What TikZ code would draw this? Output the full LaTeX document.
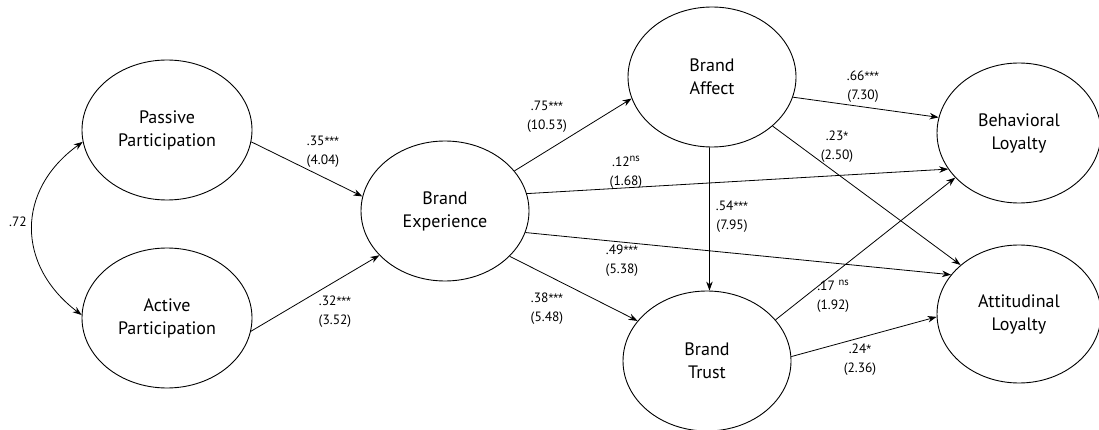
\documentclass[tikz,border=0pt]{standalone}
\usepackage{fontspec}
\setmainfont{PT Sans}
\newfontfamily\starfont{Liberation Sans}
\usetikzlibrary{shapes.geometric,arrows.meta}
% significance marks: stars sit high in the font already, "ns" is raised
\newcommand\stars[1]{{\starfont\fontsize{12.5}{0}\selectfont #1}}
\newcommand\nsmark{\raisebox{0.4em}{\fontsize{10.5}{0}\selectfont ns}}
\begin{document}
\begin{tikzpicture}[x=1pt,y=-1pt,
  construct/.style={draw,ellipse,line width=0.9pt,inner sep=0pt,
    minimum width=168pt,minimum height=140pt,align=center,
    font=\fontsize{18}{23}\selectfont},
  path/.style={line width=0.8pt,-{Stealth[length=9pt,width=6.5pt]}},
  coef/.style={align=center,inner sep=0pt,font=\fontsize{13.5}{19}\selectfont}]
\useasboundingbox (0,0) rectangle (1099,430);

% latent constructs
\node[construct,minimum width=170pt] (pp) at (167,130) {Passive\\Participation};
\node[construct,minimum width=170pt] (ap) at (167,318) {Active\\Participation};
\node[construct] (be) at (445,211) {Brand\\Experience};
\node[construct] (ba) at (712,77) {Brand\\Affect};
\node[construct] (bt) at (707,361) {Brand\\Trust};
\node[construct,minimum width=164pt] (bl) at (1019,133) {Behavioral\\Loyalty};
\node[construct,minimum width=164pt,minimum height=138pt] (al) at (1019,314) {Attitudinal\\Loyalty};

% correlation between the two participation constructs
\draw[line width=0.8pt,{Stealth[length=9pt,width=6.5pt]}-{Stealth[length=9pt,width=6.5pt]}]
  (pp.188) .. controls (16,190) and (16,265) .. (ap.178);
\node[coef] (r) at (18,222) {.72};

% structural paths
\draw[path] (pp.-8) -- (be.170);
\draw[path] (ap.-9) -- (be.-146);
\draw[path] (be.30) -- (ba.195);
\draw[path] (be.12) -- (bl.207);
\draw[path] (be.-15) -- (al.150);
\draw[path] (be.-35) -- (bt.150);
\draw[path] (ba.-92) -- (bt.88);
\draw[path] (ba.-14) -- (bl.169);
\draw[path] (ba.-39) -- (al.140);
\draw[path] (bt.31) -- (bl.215);
\draw[path] (bt.3) -- (al.182);

% path coefficients (t-values)
\node[coef] (c1) at (323,152) {.35\stars{***}\\(4.04)};
\node[coef] (c2) at (335,312) {.32\stars{***}\\(3.52)};
\node[coef] (c3) at (547,117) {.75\stars{***}\\(10.53)};
\node[coef] (c4) at (626,172) {.12\nsmark\\(1.68)};
\node[coef] (c5) at (732,217) {.54\stars{***}\\(7.95)};
\node[coef] (c6) at (622,261) {.49\stars{***}\\(5.38)};
\node[coef] (c7) at (547,309) {.38\stars{***}\\(5.48)};
\node[coef] (c8) at (863,87) {.66\stars{***}\\(7.30)};
\node[coef] (c9) at (837,147) {.23\stars{*}\\(2.50)};
\node[coef] (c10) at (833,296) {.17 \nsmark\\(1.92)};
\node[coef] (c11) at (860,360) {.24\stars{*}\\(2.36)};
\end{tikzpicture}
\end{document}
